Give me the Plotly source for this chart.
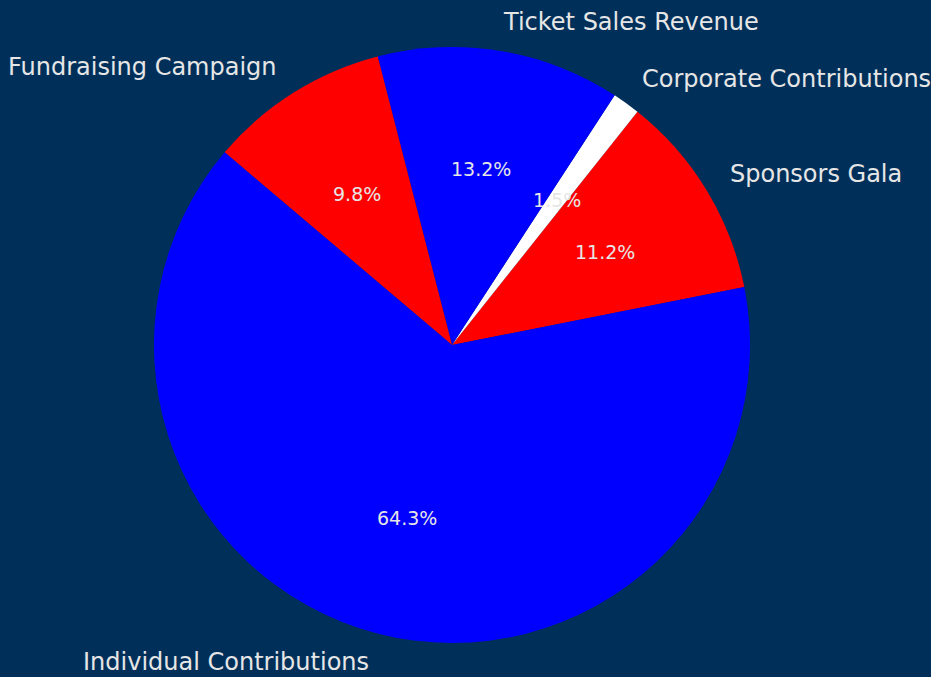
import math
import plotly.graph_objects as go

# ---- data ----
categories = ["Sponsors Gala", "Corporate Contributions", "Ticket Sales Revenue",
              "Fundraising Campaign", "Individual Contributions"]
values = [11.2, 1.5, 13.2, 9.8, 64.3]
slice_colors = ["#FF0000", "#FFFFFF", "#0000FF", "#FF0000", "#0000FF"]

# ---- geometry / style ----
W, H = 931, 677
CX, CY, R = 452, 345, 298          # pie centre and radius in pixels
START_DEG = 11.2                    # math angle where first slice starts (ccw)
BG = "#00305A"
TEXT = "#E6E6E6"
FONT = "DejaVu Sans"

total = sum(values)
first_span = 360 * values[0] / total
rotation = 90 - START_DEG - first_span

fig = go.Figure()
fig.add_trace(go.Pie(
    labels=categories, values=values, sort=False, direction="counterclockwise",
    rotation=rotation, marker=dict(colors=slice_colors, line=dict(width=0)),
    textinfo="none", hoverinfo="label+percent", showlegend=False,
    domain=dict(x=[(CX - R) / W, (CX + R) / W], y=[1 - (CY + R) / H, 1 - (CY - R) / H]),
))
# dummy trace to create the hidden cartesian frame used for text placement
fig.add_trace(go.Scatter(x=[], y=[], showlegend=False, hoverinfo="skip"))

annotations = []
acc = START_DEG
for lab, v in zip(categories, values):
    span = 360 * v / total
    mid = math.radians(acc + span / 2)
    acc += span
    cx, cy = math.cos(mid), math.sin(mid)
    right = cx > 0
    annotations.append(dict(
        x=1.1 * cx, y=1.1 * cy, xref="x", yref="y", text=lab, showarrow=False,
        xanchor="left" if right else "right", yanchor="middle", borderpad=0,
        xshift=-3 if right else 0,
        font=dict(family=FONT, size=24, color=TEXT)))
    annotations.append(dict(
        x=0.6 * cx, y=0.6 * cy, xref="x", yref="y", text=f"{100 * v / total:.1f}%",
        showarrow=False, xanchor="center", yanchor="middle", borderpad=0,
        font=dict(family=FONT, size=19, color=TEXT)))

fig.update_layout(
    width=W, height=H, margin=dict(l=0, r=0, t=0, b=0),
    paper_bgcolor=BG, plot_bgcolor="rgba(0,0,0,0)",
    xaxis=dict(range=[-CX / R, (W - CX) / R], visible=False, domain=[0, 1], fixedrange=True),
    yaxis=dict(range=[(CY - H) / R, CY / R], visible=False, domain=[0, 1], fixedrange=True),
    annotations=annotations,
)
fig.write_html(
    "out.html",
    config={"displayModeBar": False},
    post_script="document.body.style.margin='0';document.body.style.padding='0';"
                "document.body.style.overflow='hidden';",
)
